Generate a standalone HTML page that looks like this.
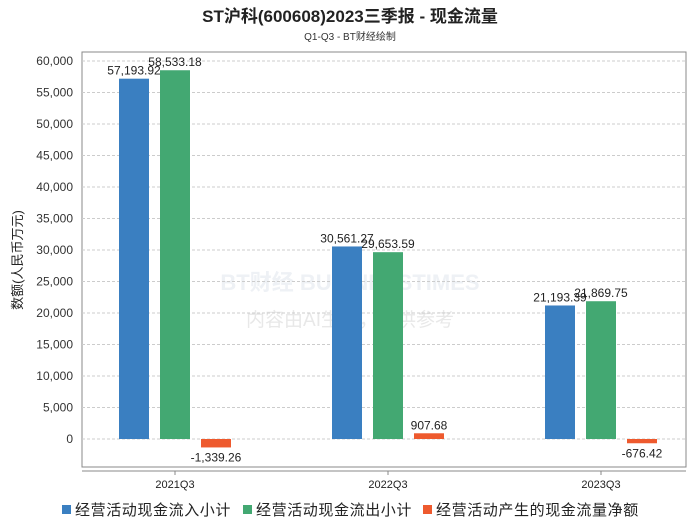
<!DOCTYPE html>
<html><head><meta charset="utf-8"><style>
body{margin:0;background:#fff;font-family:"Liberation Sans","Noto Sans CJK SC",sans-serif}
</style></head><body>
<svg id="c" width="700" height="524" xmlns="http://www.w3.org/2000/svg" font-family="Liberation Sans, Noto Sans CJK SC, sans-serif">
<text x="350" y="22" text-anchor="middle" font-size="17" font-weight="bold" fill="#222">ST沪科(600608)2023三季报 - 现金流量</text>
<text x="350" y="40" text-anchor="middle" font-size="10" fill="#333">Q1-Q3 - BT财经绘制</text>
<text x="350" y="290" text-anchor="middle" font-size="22" fill="#eef1f5" font-weight="bold">BT财经 BUSINESSTIMES</text>
<text x="350" y="326" text-anchor="middle" font-size="19" fill="#e8e8e8">内容由AI生成，仅供参考</text>
<rect x="82" y="52" width="604" height="415" fill="none" stroke="#888"/>
<line x1="82" y1="471" x2="686" y2="471" stroke="#888"/>
<text transform="translate(22,260) rotate(-90)" text-anchor="middle" font-size="13" fill="#222">数额(人民币万元)</text>
<g id="grid"></g><g id="bars"></g>
<g font-size="15" fill="#222" letter-spacing="0.6">
<rect x="62" y="505" width="9" height="9" fill="#3a7fc1"/>
<text x="75" y="515">经营活动现金流入小计</text>
<rect x="243" y="505" width="9" height="9" fill="#43a872"/>
<text x="256" y="515">经营活动现金流出小计</text>
<rect x="423" y="505" width="9" height="9" fill="#ee5a2e"/>
<text x="436" y="515">经营活动产生的现金流量净额</text>
</g>
</svg>
<script>
const categories=["2021Q3","2022Q3","2023Q3"];
const inflow=[57193.92,30561.27,21193.39];
const outflow=[58533.18,29653.59,21869.75];
const net=[-1339.26,907.68,-676.42];
const yTicks=[0,5000,10000,15000,20000,25000,30000,35000,40000,45000,50000,55000,60000];
const NS="http://www.w3.org/2000/svg";
function y(v){return 439-v*(378/60000);}
function x(i){return 175+i*213;}
function mk(t,a,p){const e=document.createElementNS(NS,t);for(const k in a)e.setAttribute(k,a[k]);p.appendChild(e);return e;}
const g=document.getElementById('grid'),b=document.getElementById('bars');
const fmt=v=>v.toLocaleString('en-US',{minimumFractionDigits:2,maximumFractionDigits:2});
yTicks.forEach(t=>{
 const l=mk('line',{x1:82,x2:686,y1:y(t),y2:y(t),stroke:'#ccc','stroke-dasharray':'3,2'},g);
 
 
 const tx=mk('text',{x:73,y:y(t)+4,'text-anchor':'end','font-size':12,fill:'#333'},g);
 tx.textContent=t.toLocaleString('en-US');
 
 
});
categories.forEach((c,i)=>{
 const tk=mk('line',{x1:x(i),x2:x(i),y1:471,y2:475,stroke:'#888'},g);
 
 
 const t=mk('text',{x:x(i),y:488,'text-anchor':'middle','font-size':11,fill:'#222'},g);
 t.textContent=c;
 
 
});
const series=[[inflow,'#3a7fc1',-41,'inflow'],[outflow,'#43a872',0,'outflow'],[net,'#ee5a2e',41,'net']];
series.forEach(([vals,col,off,nm])=>{
 vals.forEach((v,i)=>{
  const cx=x(i)+off,top=Math.min(y(v),y(0)),h=Math.abs(y(v)-y(0));
  const r=mk('rect',{x:cx-15,y:top,width:30,height:Math.max(h,1),fill:col},b);
  
  
  const ly=v>=0?y(v)-4:y(v)+14;
  const t=mk('text',{x:cx,y:ly,'text-anchor':'middle','font-size':12,fill:'#222'},b);
  t.textContent=fmt(v);
  
  
 });
});
</script>
</body></html>
